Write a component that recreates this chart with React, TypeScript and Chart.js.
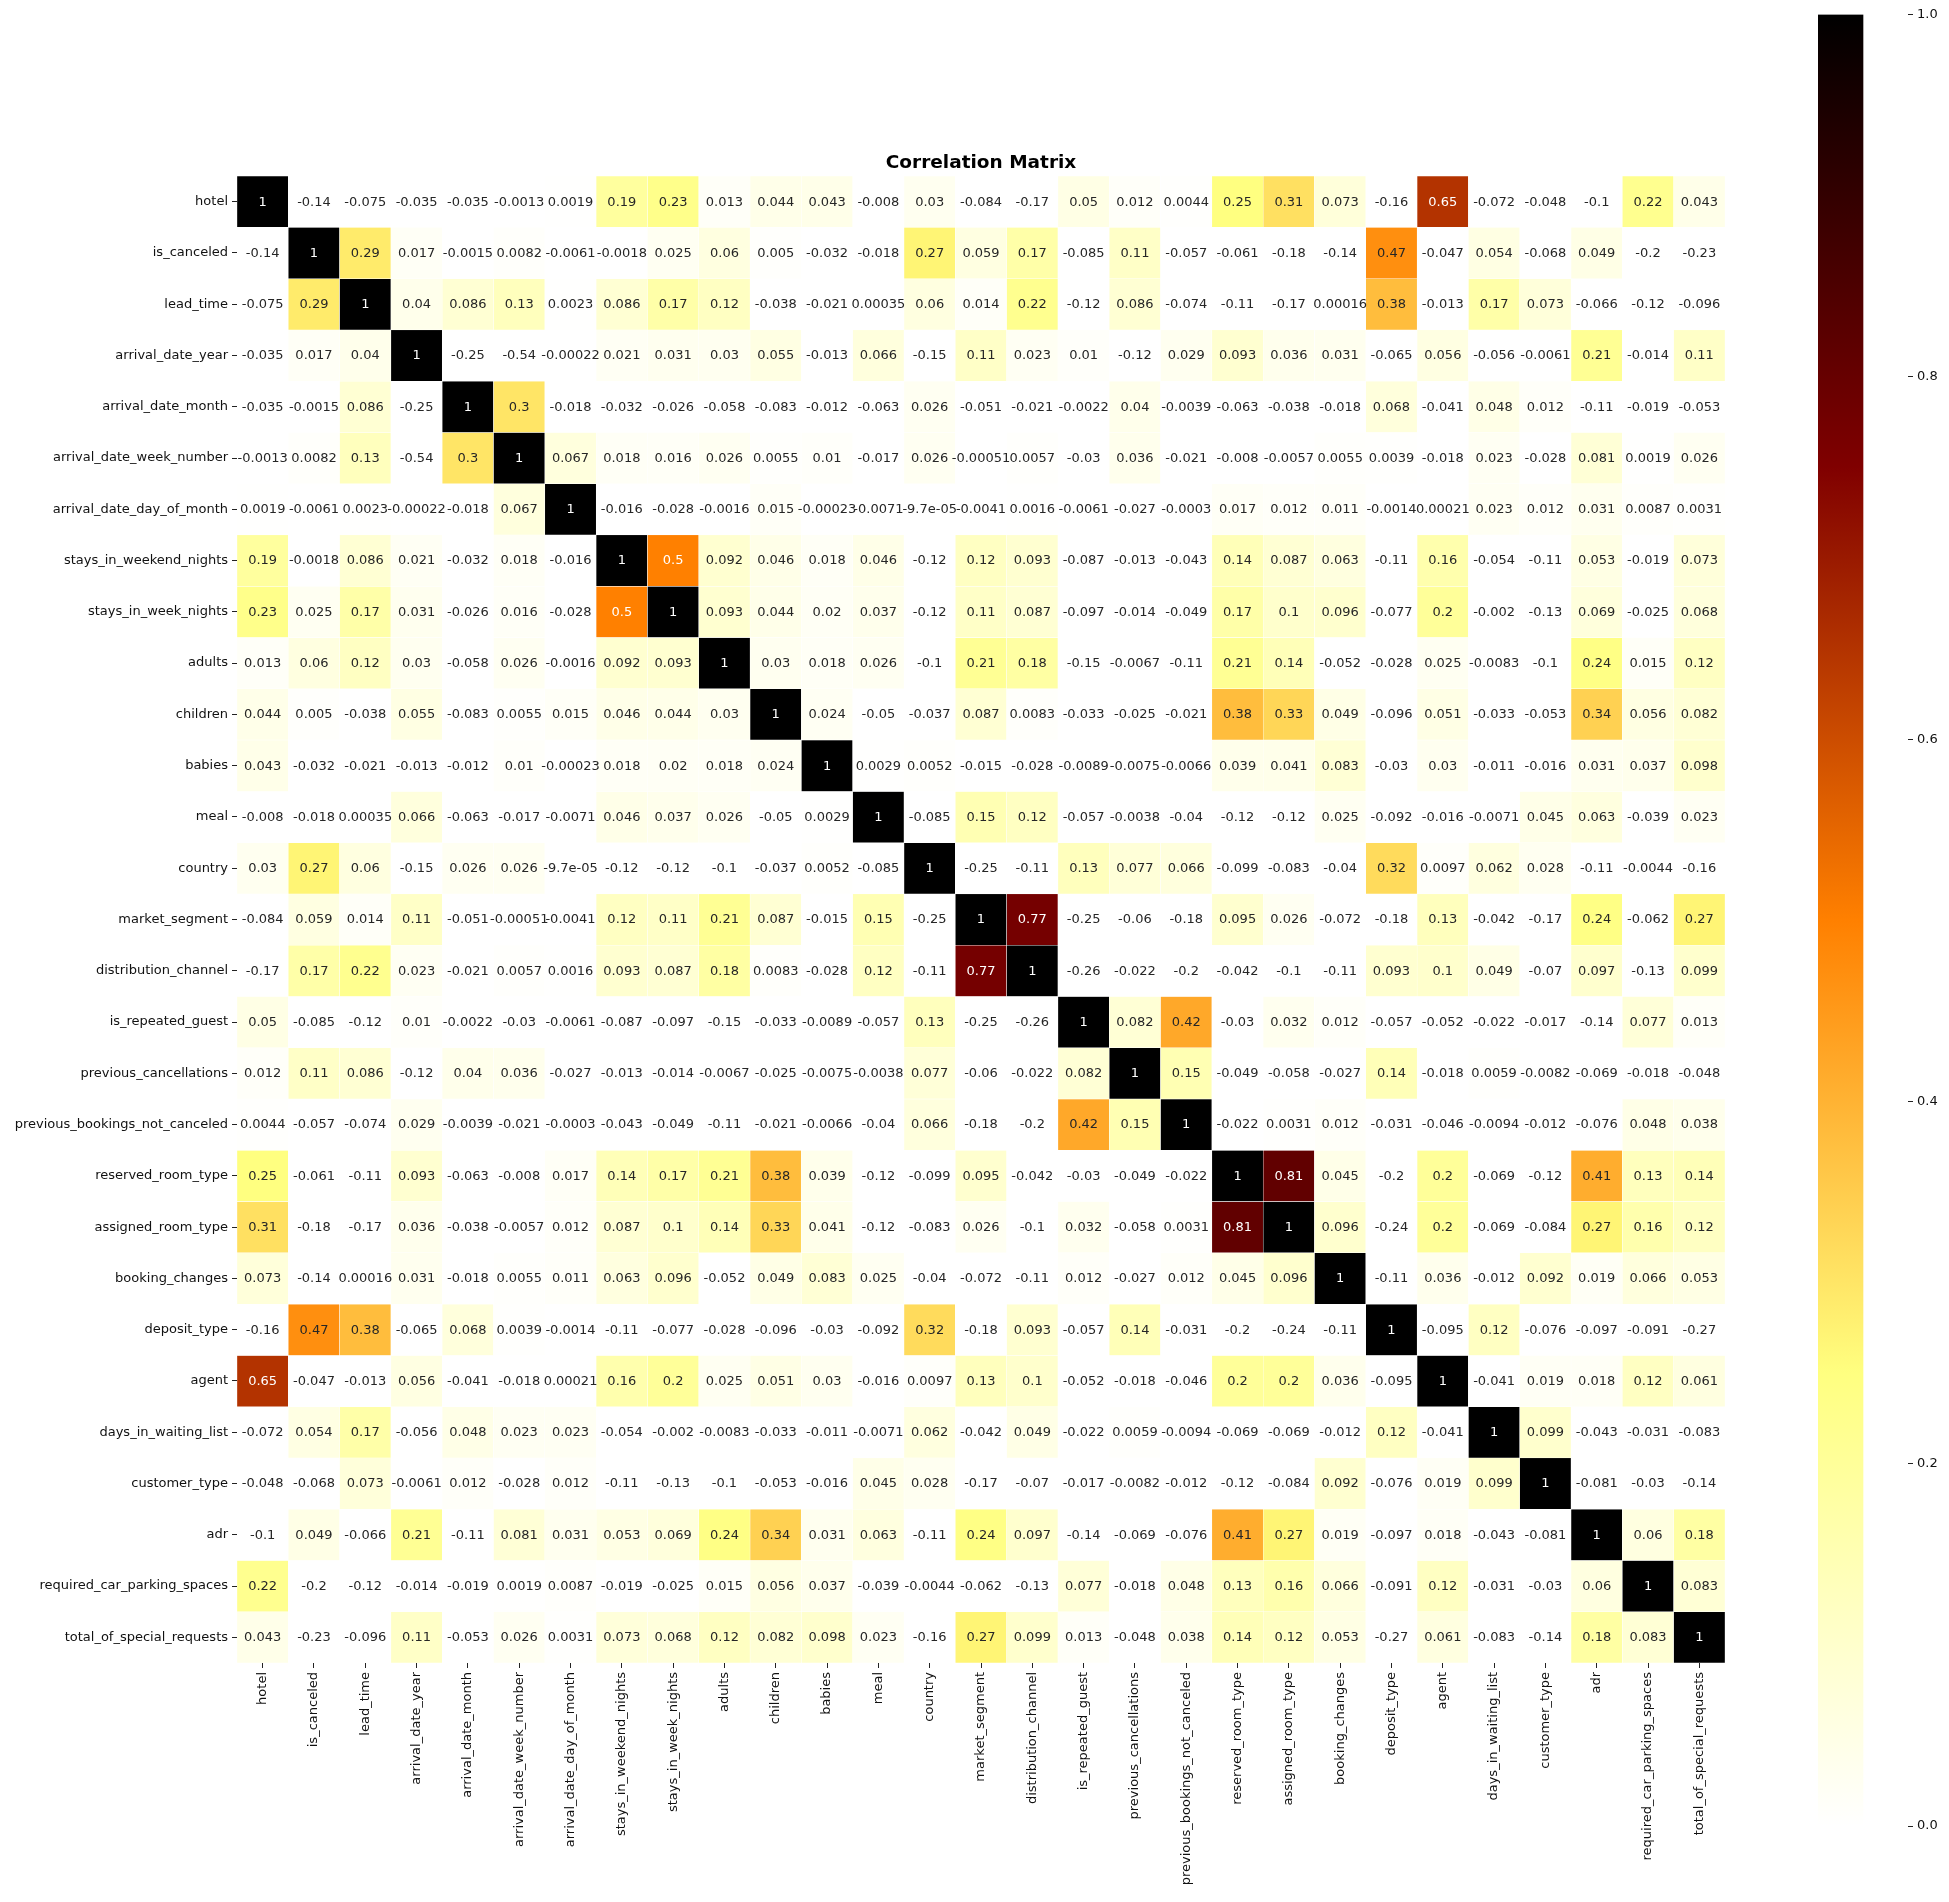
import React, { useEffect, useRef } from "react";
import { Chart, registerables } from "chart.js";

Chart.register(...registerables);

const FONT = '"DejaVu Sans", "Liberation Sans", sans-serif';

const chartTitle = "Correlation Matrix";

const rowLabels: string[] = [
  "hotel",
  "is_canceled",
  "lead_time",
  "arrival_date_year",
  "arrival_date_month",
  "arrival_date_week_number",
  "arrival_date_day_of_month",
  "stays_in_weekend_nights",
  "stays_in_week_nights",
  "adults",
  "children",
  "babies",
  "meal",
  "country",
  "market_segment",
  "distribution_channel",
  "is_repeated_guest",
  "previous_cancellations",
  "previous_bookings_not_canceled",
  "reserved_room_type",
  "assigned_room_type",
  "booking_changes",
  "deposit_type",
  "agent",
  "days_in_waiting_list",
  "customer_type",
  "adr",
  "required_car_parking_spaces",
  "total_of_special_requests",
];

const colLabels: string[] = rowLabels.slice();

// correlation values, one row per variable (row order = rowLabels, column order = colLabels)
const corrValues: number[][] = [
  [1, -0.14, -0.075, -0.035, -0.035, -0.0013, 0.0019, 0.19, 0.23, 0.013, 0.044, 0.043, -0.008, 0.03, -0.084, -0.17, 0.05, 0.012, 0.0044, 0.25, 0.31, 0.073, -0.16, 0.65, -0.072, -0.048, -0.1, 0.22, 0.043],
  [-0.14, 1, 0.29, 0.017, -0.0015, 0.0082, -0.0061, -0.0018, 0.025, 0.06, 0.005, -0.032, -0.018, 0.27, 0.059, 0.17, -0.085, 0.11, -0.057, -0.061, -0.18, -0.14, 0.47, -0.047, 0.054, -0.068, 0.049, -0.2, -0.23],
  [-0.075, 0.29, 1, 0.04, 0.086, 0.13, 0.0023, 0.086, 0.17, 0.12, -0.038, -0.021, 0.00035, 0.06, 0.014, 0.22, -0.12, 0.086, -0.074, -0.11, -0.17, 0.00016, 0.38, -0.013, 0.17, 0.073, -0.066, -0.12, -0.096],
  [-0.035, 0.017, 0.04, 1, -0.25, -0.54, -0.00022, 0.021, 0.031, 0.03, 0.055, -0.013, 0.066, -0.15, 0.11, 0.023, 0.01, -0.12, 0.029, 0.093, 0.036, 0.031, -0.065, 0.056, -0.056, -0.0061, 0.21, -0.014, 0.11],
  [-0.035, -0.0015, 0.086, -0.25, 1, 0.3, -0.018, -0.032, -0.026, -0.058, -0.083, -0.012, -0.063, 0.026, -0.051, -0.021, -0.0022, 0.04, -0.0039, -0.063, -0.038, -0.018, 0.068, -0.041, 0.048, 0.012, -0.11, -0.019, -0.053],
  [-0.0013, 0.0082, 0.13, -0.54, 0.3, 1, 0.067, 0.018, 0.016, 0.026, 0.0055, 0.01, -0.017, 0.026, -0.00051, 0.0057, -0.03, 0.036, -0.021, -0.008, -0.0057, 0.0055, 0.0039, -0.018, 0.023, -0.028, 0.081, 0.0019, 0.026],
  [0.0019, -0.0061, 0.0023, -0.00022, -0.018, 0.067, 1, -0.016, -0.028, -0.0016, 0.015, -0.00023, -0.0071, -0.000097, -0.0041, 0.0016, -0.0061, -0.027, -0.0003, 0.017, 0.012, 0.011, -0.0014, 0.00021, 0.023, 0.012, 0.031, 0.0087, 0.0031],
  [0.19, -0.0018, 0.086, 0.021, -0.032, 0.018, -0.016, 1, 0.5, 0.092, 0.046, 0.018, 0.046, -0.12, 0.12, 0.093, -0.087, -0.013, -0.043, 0.14, 0.087, 0.063, -0.11, 0.16, -0.054, -0.11, 0.053, -0.019, 0.073],
  [0.23, 0.025, 0.17, 0.031, -0.026, 0.016, -0.028, 0.5, 1, 0.093, 0.044, 0.02, 0.037, -0.12, 0.11, 0.087, -0.097, -0.014, -0.049, 0.17, 0.1, 0.096, -0.077, 0.2, -0.002, -0.13, 0.069, -0.025, 0.068],
  [0.013, 0.06, 0.12, 0.03, -0.058, 0.026, -0.0016, 0.092, 0.093, 1, 0.03, 0.018, 0.026, -0.1, 0.21, 0.18, -0.15, -0.0067, -0.11, 0.21, 0.14, -0.052, -0.028, 0.025, -0.0083, -0.1, 0.24, 0.015, 0.12],
  [0.044, 0.005, -0.038, 0.055, -0.083, 0.0055, 0.015, 0.046, 0.044, 0.03, 1, 0.024, -0.05, -0.037, 0.087, 0.0083, -0.033, -0.025, -0.021, 0.38, 0.33, 0.049, -0.096, 0.051, -0.033, -0.053, 0.34, 0.056, 0.082],
  [0.043, -0.032, -0.021, -0.013, -0.012, 0.01, -0.00023, 0.018, 0.02, 0.018, 0.024, 1, 0.0029, 0.0052, -0.015, -0.028, -0.0089, -0.0075, -0.0066, 0.039, 0.041, 0.083, -0.03, 0.03, -0.011, -0.016, 0.031, 0.037, 0.098],
  [-0.008, -0.018, 0.00035, 0.066, -0.063, -0.017, -0.0071, 0.046, 0.037, 0.026, -0.05, 0.0029, 1, -0.085, 0.15, 0.12, -0.057, -0.0038, -0.04, -0.12, -0.12, 0.025, -0.092, -0.016, -0.0071, 0.045, 0.063, -0.039, 0.023],
  [0.03, 0.27, 0.06, -0.15, 0.026, 0.026, -0.000097, -0.12, -0.12, -0.1, -0.037, 0.0052, -0.085, 1, -0.25, -0.11, 0.13, 0.077, 0.066, -0.099, -0.083, -0.04, 0.32, 0.0097, 0.062, 0.028, -0.11, -0.0044, -0.16],
  [-0.084, 0.059, 0.014, 0.11, -0.051, -0.00051, -0.0041, 0.12, 0.11, 0.21, 0.087, -0.015, 0.15, -0.25, 1, 0.77, -0.25, -0.06, -0.18, 0.095, 0.026, -0.072, -0.18, 0.13, -0.042, -0.17, 0.24, -0.062, 0.27],
  [-0.17, 0.17, 0.22, 0.023, -0.021, 0.0057, 0.0016, 0.093, 0.087, 0.18, 0.0083, -0.028, 0.12, -0.11, 0.77, 1, -0.26, -0.022, -0.2, -0.042, -0.1, -0.11, 0.093, 0.1, 0.049, -0.07, 0.097, -0.13, 0.099],
  [0.05, -0.085, -0.12, 0.01, -0.0022, -0.03, -0.0061, -0.087, -0.097, -0.15, -0.033, -0.0089, -0.057, 0.13, -0.25, -0.26, 1, 0.082, 0.42, -0.03, 0.032, 0.012, -0.057, -0.052, -0.022, -0.017, -0.14, 0.077, 0.013],
  [0.012, 0.11, 0.086, -0.12, 0.04, 0.036, -0.027, -0.013, -0.014, -0.0067, -0.025, -0.0075, -0.0038, 0.077, -0.06, -0.022, 0.082, 1, 0.15, -0.049, -0.058, -0.027, 0.14, -0.018, 0.0059, -0.0082, -0.069, -0.018, -0.048],
  [0.0044, -0.057, -0.074, 0.029, -0.0039, -0.021, -0.0003, -0.043, -0.049, -0.11, -0.021, -0.0066, -0.04, 0.066, -0.18, -0.2, 0.42, 0.15, 1, -0.022, 0.0031, 0.012, -0.031, -0.046, -0.0094, -0.012, -0.076, 0.048, 0.038],
  [0.25, -0.061, -0.11, 0.093, -0.063, -0.008, 0.017, 0.14, 0.17, 0.21, 0.38, 0.039, -0.12, -0.099, 0.095, -0.042, -0.03, -0.049, -0.022, 1, 0.81, 0.045, -0.2, 0.2, -0.069, -0.12, 0.41, 0.13, 0.14],
  [0.31, -0.18, -0.17, 0.036, -0.038, -0.0057, 0.012, 0.087, 0.1, 0.14, 0.33, 0.041, -0.12, -0.083, 0.026, -0.1, 0.032, -0.058, 0.0031, 0.81, 1, 0.096, -0.24, 0.2, -0.069, -0.084, 0.27, 0.16, 0.12],
  [0.073, -0.14, 0.00016, 0.031, -0.018, 0.0055, 0.011, 0.063, 0.096, -0.052, 0.049, 0.083, 0.025, -0.04, -0.072, -0.11, 0.012, -0.027, 0.012, 0.045, 0.096, 1, -0.11, 0.036, -0.012, 0.092, 0.019, 0.066, 0.053],
  [-0.16, 0.47, 0.38, -0.065, 0.068, 0.0039, -0.0014, -0.11, -0.077, -0.028, -0.096, -0.03, -0.092, 0.32, -0.18, 0.093, -0.057, 0.14, -0.031, -0.2, -0.24, -0.11, 1, -0.095, 0.12, -0.076, -0.097, -0.091, -0.27],
  [0.65, -0.047, -0.013, 0.056, -0.041, -0.018, 0.00021, 0.16, 0.2, 0.025, 0.051, 0.03, -0.016, 0.0097, 0.13, 0.1, -0.052, -0.018, -0.046, 0.2, 0.2, 0.036, -0.095, 1, -0.041, 0.019, 0.018, 0.12, 0.061],
  [-0.072, 0.054, 0.17, -0.056, 0.048, 0.023, 0.023, -0.054, -0.002, -0.0083, -0.033, -0.011, -0.0071, 0.062, -0.042, 0.049, -0.022, 0.0059, -0.0094, -0.069, -0.069, -0.012, 0.12, -0.041, 1, 0.099, -0.043, -0.031, -0.083],
  [-0.048, -0.068, 0.073, -0.0061, 0.012, -0.028, 0.012, -0.11, -0.13, -0.1, -0.053, -0.016, 0.045, 0.028, -0.17, -0.07, -0.017, -0.0082, -0.012, -0.12, -0.084, 0.092, -0.076, 0.019, 0.099, 1, -0.081, -0.03, -0.14],
  [-0.1, 0.049, -0.066, 0.21, -0.11, 0.081, 0.031, 0.053, 0.069, 0.24, 0.34, 0.031, 0.063, -0.11, 0.24, 0.097, -0.14, -0.069, -0.076, 0.41, 0.27, 0.019, -0.097, 0.018, -0.043, -0.081, 1, 0.06, 0.18],
  [0.22, -0.2, -0.12, -0.014, -0.019, 0.0019, 0.0087, -0.019, -0.025, 0.015, 0.056, 0.037, -0.039, -0.0044, -0.062, -0.13, 0.077, -0.018, 0.048, 0.13, 0.16, 0.066, -0.091, 0.12, -0.031, -0.03, 0.06, 1, 0.083],
  [0.043, -0.23, -0.096, 0.11, -0.053, 0.026, 0.0031, 0.073, 0.068, 0.12, 0.082, 0.098, 0.023, -0.16, 0.27, 0.099, 0.013, -0.048, 0.038, 0.14, 0.12, 0.053, -0.27, 0.061, -0.083, -0.14, 0.18, 0.083, 1],
];

const colorbarTicks: number[] = [0, 0.2, 0.4, 0.6, 0.8, 1.0];
const colorMin = 0;
const colorMax = 1;

// afmhot_r colormap
function cmapRGB(v: number): [number, number, number] {
  const t = Math.min(1, Math.max(0, (v - colorMin) / (colorMax - colorMin)));
  const x = 1 - t;
  const c = (u: number) => Math.min(1, Math.max(0, u));
  return [c(2 * x), c(2 * x - 0.5), c(2 * x - 1)];
}
function cmap(v: number): string {
  const [r, g, b] = cmapRGB(v);
  return `rgb(${Math.round(r * 255)},${Math.round(g * 255)},${Math.round(b * 255)})`;
}
function textColor(v: number): string {
  const rgb = cmapRGB(v).map((u) =>
    u <= 0.03928 ? u / 12.92 : Math.pow((u + 0.055) / 1.055, 2.4)
  );
  const lum = rgb[0] * 0.2126 + rgb[1] * 0.7152 + rgb[2] * 0.0722;
  return lum > 0.408 ? "#262626" : "#ffffff";
}
function fmtG(v: number): string {
  if (v === 0) return "0";
  const r = Number(v.toPrecision(2));
  const e = Math.floor(Math.log10(Math.abs(r)) + 1e-12);
  if (e < -4 || e >= 2) {
    const parts = r.toExponential(1).split("e");
    let m = parts[0];
    if (m.includes(".")) m = m.replace(/\.?0+$/, "");
    const n = parseInt(parts[1], 10);
    return m + "e" + (n < 0 ? "-" : "+") + String(Math.abs(n)).padStart(2, "0");
  }
  const s = r.toFixed(Math.max(0, 1 - e));
  return s.includes(".") ? s.replace(/\.?0+$/, "") : s;
}

const cellTextPlugin = {
  id: "cellText",
  afterDatasetsDraw(chart: any) {
    const ctx = chart.ctx;
    ctx.save();
    ctx.font = `13px ${FONT}`;
    ctx.textAlign = "center";
    ctx.textBaseline = "middle";
    chart.data.datasets.forEach((_ds: any, r: number) => {
      const meta = chart.getDatasetMeta(r);
      meta.data.forEach((el: any, c: number) => {
        const v = corrValues[r][c];
        const p = el.getProps(["x", "y", "base"], true);
        ctx.fillStyle = textColor(v);
        ctx.fillText(fmtG(v), p.x, (p.y + p.base) / 2 + 0.5);
      });
    });
    ctx.restore();
  },
};

// title centred over the heatmap (plot area), like matplotlib's axes title
const axesTitlePlugin = {
  id: "axesTitle",
  afterDraw(chart: any) {
    const ctx = chart.ctx;
    const ca = chart.chartArea;
    ctx.save();
    ctx.font = `bold 18.5px ${FONT}`;
    ctx.fillStyle = "#000000";
    ctx.textAlign = "center";
    ctx.textBaseline = "middle";
    ctx.fillText(chartTitle, (ca.left + ca.right) / 2, ca.top - 13);
    ctx.restore();
  },
};

export default function App() {
  const mainRef = useRef<HTMLCanvasElement | null>(null);
  const cbRef = useRef<HTMLCanvasElement | null>(null);

  useEffect(() => {
    if (!mainRef.current || !cbRef.current) return;

    const datasets = rowLabels.map((name, r) => ({
      label: name,
      data: colLabels.map(() => [r - 0.5, r + 0.5]),
      backgroundColor: corrValues[r].map((v) => cmap(v)),
      borderColor: "#ffffff",
      borderWidth: 0.5,
      borderSkipped: false,
      grouped: false,
      barPercentage: 1,
      categoryPercentage: 1,
    }));

    const main = new Chart(mainRef.current, {
      type: "bar",
      data: { labels: colLabels, datasets: datasets as any },
      options: {
        animation: false,
        responsive: false,
        devicePixelRatio: 1,
        events: [],
        layout: { padding: { left: 0, right: 224, top: 176, bottom: 0 } },
        plugins: {
          legend: { display: false },
          tooltip: { enabled: false },
          title: { display: false },
        },
        scales: {
          x: {
            type: "category",
            offset: true,
            grid: {
              display: true,
              drawOnChartArea: false,
              drawTicks: true,
              tickLength: 5,
              offset: false,
              color: "#222222",
            },
            border: { display: false },
            ticks: {
              autoSkip: false,
              minRotation: 90,
              maxRotation: 90,
              padding: 4,
              color: "#111111",
              font: { family: FONT, size: 13 },
            },
            afterFit: (s: any) => {
              s.height = 239;
            },
          },
          y: {
            type: "linear",
            min: -0.5,
            max: rowLabels.length - 0.5,
            reverse: true,
            grid: {
              display: true,
              drawOnChartArea: false,
              drawTicks: true,
              tickLength: 5,
              color: "#222222",
            },
            border: { display: false },
            afterBuildTicks: (s: any) => {
              s.ticks = rowLabels.map((_, i) => ({ value: i }));
            },
            ticks: {
              autoSkip: false,
              padding: 4,
              color: "#111111",
              font: { family: FONT, size: 13 },
              callback: (v: any) => rowLabels[Math.round(Number(v))] ?? "",
            },
            afterFit: (s: any) => {
              s.width = 237;
            },
          },
        },
      },
      plugins: [cellTextPlugin, axesTitlePlugin],
    } as any);

    const cb = new Chart(cbRef.current, {
      type: "bar",
      data: {
        labels: [""],
        datasets: [
          {
            data: [[colorMin, colorMax]],
            borderWidth: 0,
            barPercentage: 1,
            categoryPercentage: 1,
            backgroundColor: (c: any) => {
              const chart = c.chart;
              const ys = chart.scales?.y;
              if (!ys || !chart.chartArea) return "#ffffff";
              const y0 = ys.getPixelForValue(colorMin);
              const y1 = ys.getPixelForValue(colorMax);
              const g = chart.ctx.createLinearGradient(0, y0, 0, y1);
              [0, 0.25, 0.5, 0.75, 1].forEach((s) => g.addColorStop(s, cmap(colorMin + s * (colorMax - colorMin))));
              return g;
            },
          },
        ],
      },
      options: {
        animation: false,
        responsive: false,
        devicePixelRatio: 1,
        events: [],
        layout: { padding: { left: 28, right: 0, top: 14.6, bottom: 76 } },
        plugins: { legend: { display: false }, tooltip: { enabled: false }, title: { display: false } },
        scales: {
          x: { display: false, offset: false },
          y: {
            position: "right",
            min: colorMin,
            max: colorMax,
            grid: { display: true, drawOnChartArea: false, drawTicks: true, tickLength: 5, color: "#222222" },
            border: { display: false },
            afterBuildTicks: (s: any) => {
              s.ticks = colorbarTicks.map((v) => ({ value: v }));
            },
            ticks: {
              padding: 4,
              color: "#111111",
              font: { family: FONT, size: 13 },
              callback: (v: any) => Number(v).toFixed(1),
            },
            afterFit: (s: any) => {
              s.width = 41;
            },
          },
        },
      },
    } as any);

    return () => {
      main.destroy();
      cb.destroy();
    };
  }, []);

  return (
    <div style={{ position: "absolute", left: 0, top: 0, width: 1949, height: 1902, background: "#ffffff" }}>
      <canvas ref={mainRef} width={1949} height={1902} style={{ position: "absolute", left: 0, top: 0 }} />
      <canvas ref={cbRef} width={159} height={1902} style={{ position: "absolute", left: 1790, top: 0 }} />
    </div>
  );
}
